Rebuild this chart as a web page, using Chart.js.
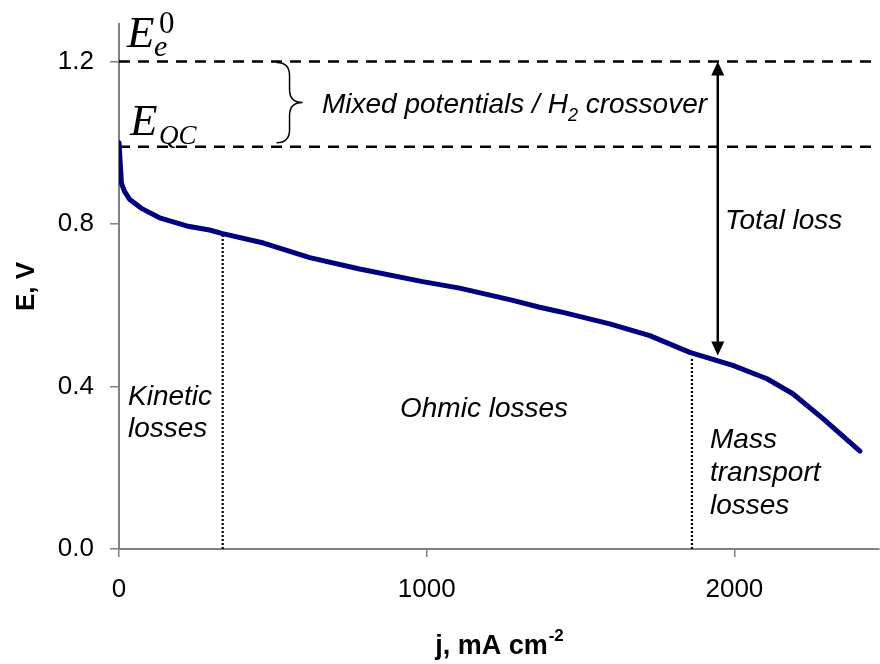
<!DOCTYPE html>
<html>
<head>
<meta charset="utf-8">
<script src="https://cdn.jsdelivr.net/npm/chart.js@4.4.1/dist/chart.umd.min.js"></script>
<style>
  html, body { margin: 0; padding: 0; background: #fff; }
</style>
</head>
<body>
<canvas id="polCurve" width="880" height="664"></canvas>
<script>
// Polarisation curve, values
const currentDensity = [0, 4, 8, 18, 34, 76, 132, 220, 294, 337, 470, 620, 782, 987, 1107, 1280, 1367, 1433, 1595, 1725, 1855, 1995, 2106, 2190, 2288, 2408];
const cellVoltage = [1.00, 0.95, 0.90, 0.88, 0.861, 0.837, 0.815, 0.795, 0.785, 0.776, 0.753, 0.717, 0.689, 0.658, 0.642, 0.612, 0.595, 0.584, 0.554, 0.525, 0.484, 0.452, 0.419, 0.382, 0.321, 0.241];

const xTicks = [0, 1000, 2000];
const yTicks = [0, 0.4, 0.8, 1.2];
const xMax = 2470;
const yMax = 1.292;

const eReversible = 1.2;      // E_e^0
const eOpenCircuit = 0.99;    // E_QC
const regionBounds = [337, 1862];     // dotted separators
const regionTops = [0.776, 0.47];
const lossArrowJ = 1946;
const lossArrowLow = 0.476;

const FONT = "'Liberation Sans', Arial, sans-serif";
const SERIF = "'Liberation Serif', 'Times New Roman', serif";

const curve = currentDensity.map((j, i) => ({ x: j, y: cellVoltage[i] }));
const hLine = (v) => [{ x: 0, y: v }, { x: xMax, y: v }];
const vLine = (j, top) => [{ x: j, y: 0 }, { x: j, y: top }];

// text, arrow and brace on top of the plot
const annotations = {
    id: 'annotations',
    afterDraw(chart) {
        const { ctx, chartArea, scales: { x, y } } = chart;
        ctx.save();
        ctx.fillStyle = '#000';
        ctx.strokeStyle = '#000';
        ctx.textBaseline = 'alphabetic';
        ctx.textAlign = 'left';

        // total loss arrow
        const ax = x.getPixelForValue(lossArrowJ);
        const aTop = y.getPixelForValue(eReversible);
        const aBot = y.getPixelForValue(lossArrowLow);
        ctx.lineWidth = 2.5;
        ctx.beginPath();
        ctx.moveTo(ax, aTop + 12);
        ctx.lineTo(ax, aBot - 12);
        ctx.stroke();
        ctx.beginPath();
        ctx.moveTo(ax, aTop); ctx.lineTo(ax - 6.5, aTop + 14); ctx.lineTo(ax + 6.5, aTop + 14);
        ctx.closePath(); ctx.fill();
        ctx.beginPath();
        ctx.moveTo(ax, aBot); ctx.lineTo(ax - 6.5, aBot - 14); ctx.lineTo(ax + 6.5, aBot - 14);
        ctx.closePath(); ctx.fill();

        // curly brace between the two dashed lines
        const bl = x.getPixelForValue(512), w = 26;
        const bt = y.getPixelForValue(eReversible) + 1;
        const bb = y.getPixelForValue(eOpenCircuit) - 4;
        const bm = (bt + bb) / 2, xm = bl + w / 2, xr = bl + w;
        ctx.lineWidth = 1.5;
        ctx.beginPath();
        ctx.moveTo(bl, bt);
        ctx.quadraticCurveTo(xm, bt, xm, bt + w / 2);
        ctx.lineTo(xm, bm - w / 2);
        ctx.quadraticCurveTo(xm, bm, xr, bm);
        ctx.quadraticCurveTo(xm, bm, xm, bm + w / 2);
        ctx.lineTo(xm, bb - w / 2);
        ctx.quadraticCurveTo(xm, bb, bl, bb);
        ctx.stroke();

        // italic labels
        const it = 'italic 28px ' + FONT;
        ctx.font = it;
        let tx = 322;
        ctx.fillText('Mixed potentials / H', tx, 113);
        tx += ctx.measureText('Mixed potentials / H').width;
        ctx.font = 'italic 18px ' + FONT;
        ctx.fillText('2', tx, 121);
        tx += ctx.measureText('2').width;
        ctx.font = it;
        ctx.fillText(' crossover', tx, 113);

        ctx.fillText('Total loss', 725, 229);
        ctx.fillText('Kinetic', 128, 405);
        ctx.fillText('losses', 128, 437);
        ctx.fillText('Ohmic losses', 400, 417);
        ctx.fillText('Mass', 710, 448);
        ctx.fillText('transport', 710, 481);
        ctx.fillText('losses', 710, 514);

        // potential labels E_e^0 and E_QC
        ctx.font = 'italic 45px ' + SERIF;
        ctx.fillText('E', 127, 47);
        ctx.fillText('E', 130, 135);
        ctx.font = 'italic 30px ' + SERIF;
        ctx.fillText('e', 154, 56);
        ctx.font = 'italic 27px ' + SERIF;
        ctx.fillText('QC', 159, 144);
        ctx.font = '31px ' + SERIF;
        ctx.fillText('0', 159, 33);

        // x axis title with superscript
        const main = 'j, mA cm', sup = '-2';
        const mf = 'bold 27px ' + FONT, sf = 'bold 17px ' + FONT;
        ctx.font = mf; const mw = ctx.measureText(main).width;
        ctx.font = sf; const sw = ctx.measureText(sup).width;
        let sx = (chartArea.left + chartArea.right) / 2 - (mw + sw) / 2;
        ctx.font = mf; ctx.fillText(main, sx, 654);
        ctx.font = sf; ctx.fillText(sup, sx + mw + 1, 641);
        ctx.restore();
    }
};

const ctx = document.getElementById('polCurve').getContext('2d');

new Chart(ctx, {
    type: 'line',
    data: {
        datasets: [
            { data: curve, borderColor: '#00007f', borderWidth: 5, pointRadius: 0, tension: 0, borderJoinStyle: 'round', borderCapStyle: 'round' },
            { data: hLine(eReversible), borderColor: '#000', borderWidth: 2.5, borderDash: [11, 8], pointRadius: 0 },
            { data: hLine(eOpenCircuit), borderColor: '#000', borderWidth: 2.5, borderDash: [11, 8], pointRadius: 0 },
            { data: vLine(regionBounds[0], regionTops[0]), borderColor: '#000', borderWidth: 2.2, borderDash: [2, 2], pointRadius: 0 },
            { data: vLine(regionBounds[1], regionTops[1]), borderColor: '#000', borderWidth: 2.2, borderDash: [2, 2], pointRadius: 0 }
        ]
    },
    options: {
        responsive: false,
        animation: false,
        devicePixelRatio: 1,
        layout: { padding: { top: 24, right: 1, left: 0, bottom: 0 } },
        plugins: { legend: { display: false }, tooltip: { enabled: false } },
        scales: {
            x: {
                type: 'linear',
                min: 0,
                max: xMax,
                afterBuildTicks: (scale) => { scale.ticks = xTicks.map(v => ({ value: v })); },
                afterFit: (scale) => { scale.height = 115; scale.paddingLeft = 0; scale.paddingRight = 0; },
                grid: { drawOnChartArea: false, drawTicks: true, tickLength: 8, color: '#808080', lineWidth: 1.5 },
                border: { display: true, color: '#808080', width: 2 },
                ticks: { color: '#000', padding: 17, maxRotation: 0, font: { family: FONT, size: 26 }, callback: (v) => String(v) },
                title: { display: false }
            },
            y: {
                min: 0,
                max: yMax,
                afterBuildTicks: (scale) => { scale.ticks = yTicks.map(v => ({ value: v })); },
                afterFit: (scale) => { scale.width = 119; scale.paddingTop = 0; scale.paddingBottom = 0; },
                grid: { drawOnChartArea: false, drawTicks: true, tickLength: 9, color: '#808080', lineWidth: 1.5 },
                border: { display: true, color: '#808080', width: 2 },
                ticks: { color: '#000', padding: 16, font: { family: FONT, size: 26 }, callback: (v) => Number(v).toFixed(1) },
                title: { display: true, text: 'E, V', color: '#000', padding: { top: 11, bottom: 0 }, font: { family: FONT, size: 26, weight: 'bold' } }
            }
        }
    },
    plugins: [annotations]
});
</script>
</body>
</html>
